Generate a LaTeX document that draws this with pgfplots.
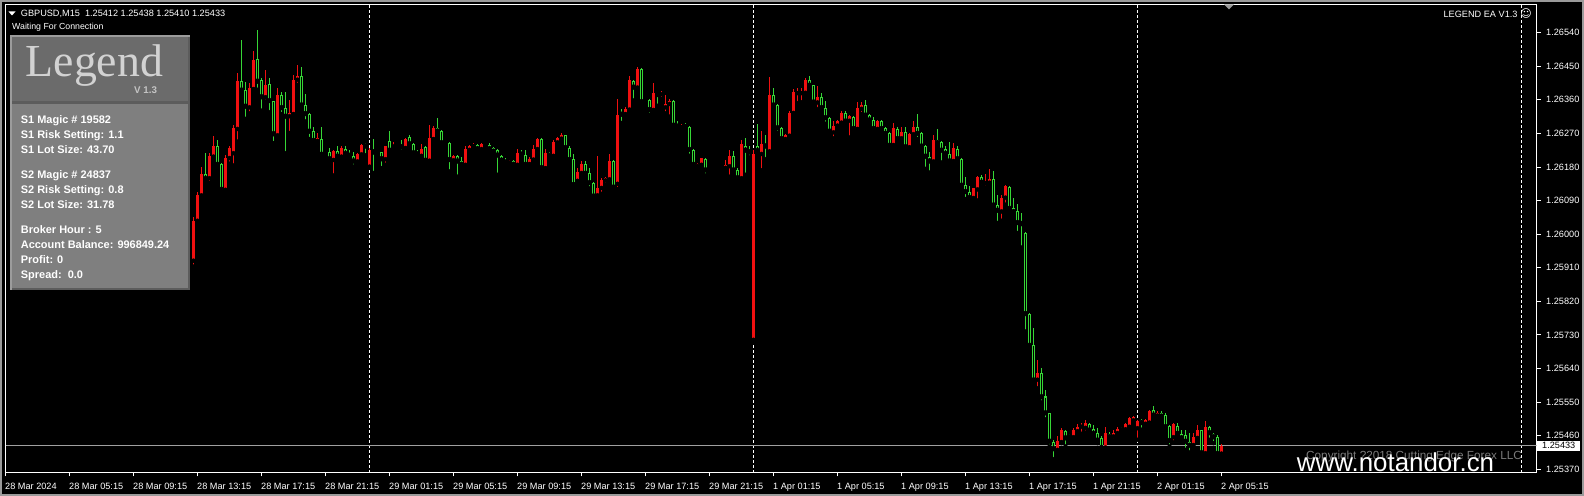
\documentclass[border=0pt]{standalone}
\usepackage{pgfplots}
\pgfplotsset{compat=1.18}
\usepackage{pgfplotstable}
\usepackage{fontspec}
\setmainfont{Liberation Sans}
\newfontfamily\serifleg{Liberation Serif}
\newfontfamily\dejavu{DejaVu Sans}
\definecolor{upc}{HTML}{F01010}
\definecolor{dnc}{HTML}{36D636}
\definecolor{hdr}{HTML}{6B6B6B}
\definecolor{pnl}{HTML}{7F7F7F}
\definecolor{pbl}{HTML}{9C9C9C}
\definecolor{pbd}{HTML}{5C5C5C}
\definecolor{legc}{HTML}{D2D2D2}
\definecolor{vcol}{HTML}{C4C4C4}
\definecolor{cpc}{HTML}{7A7A7A}
\definecolor{bidc}{HTML}{A0A0A0}
\definecolor{frm}{HTML}{9A9A9A}
\pgfplotstableread{
k o h l c
47 1.25929 1.26047 1.25913 1.26036
48 1.26036 1.26114 1.26030 1.26105
49 1.26104 1.26181 1.26100 1.26162
51 1.26150 1.26217 1.26137 1.26210
52 1.26208 1.26263 1.26204 1.26237
55 1.26119 1.26213 1.26110 1.26204
56 1.26204 1.26235 1.26189 1.26232
57 1.26217 1.26293 1.26184 1.26284
58 1.26282 1.26432 1.26248 1.26411
61 1.26340 1.26405 1.26324 1.26391
62 1.26389 1.26491 1.26382 1.26467
65 1.26367 1.26440 1.26355 1.26400
68 1.26265 1.26391 1.26255 1.26373
71 1.26316 1.26360 1.26271 1.26324
72 1.26322 1.26427 1.26318 1.26414
73 1.26414 1.26454 1.26400 1.26425
78 1.26250 1.26271 1.26239 1.26257
82 1.26199 1.26226 1.26157 1.26224
84 1.26208 1.26237 1.26199 1.26231
88 1.26195 1.26218 1.26192 1.26214
89 1.26214 1.26242 1.26210 1.26239
91 1.26181 1.26231 1.26180 1.26226
95 1.26201 1.26236 1.26186 1.26235
97 1.26235 1.26248 1.26232 1.26239
100 1.26231 1.26258 1.26229 1.26255
104 1.26210 1.26242 1.26208 1.26228
106 1.26197 1.26293 1.26195 1.26257
107 1.26255 1.26290 1.26251 1.26284
110 1.26244 1.26249 1.26242 1.26247
112 1.26198 1.26213 1.26195 1.26210
115 1.26186 1.26235 1.26181 1.26228
116 1.26226 1.26239 1.26221 1.26237
117 1.26236 1.26245 1.26232 1.26239
119 1.26228 1.26245 1.26226 1.26242
126 1.26192 1.26199 1.26190 1.26197
128 1.26186 1.26229 1.26183 1.26217
131 1.26188 1.26207 1.26183 1.26202
132 1.26200 1.26239 1.26195 1.26228
133 1.26228 1.26258 1.26226 1.26255
135 1.26177 1.26229 1.26175 1.26217
137 1.26210 1.26253 1.26207 1.26248
138 1.26246 1.26261 1.26239 1.26257
139 1.26256 1.26271 1.26251 1.26266
143 1.26143 1.26177 1.26136 1.26166
144 1.26164 1.26197 1.26162 1.26189
148 1.26104 1.26210 1.26102 1.26125
149 1.26124 1.26150 1.26108 1.26146
150 1.26144 1.26154 1.26132 1.26150
151 1.26147 1.26215 1.26141 1.26197
153 1.26135 1.26363 1.26121 1.26320
155 1.26322 1.26341 1.26320 1.26336
156 1.26334 1.26424 1.26331 1.26414
158 1.26393 1.26449 1.26391 1.26443
162 1.26333 1.26406 1.26331 1.26378
164 1.26375 1.26385 1.26362 1.26378
165 1.26340 1.26373 1.26324 1.26348
166 1.26349 1.26362 1.26315 1.26357
169 1.26287 1.26296 1.26282 1.26290
173 1.26183 1.26190 1.26172 1.26189
174 1.26186 1.26205 1.26185 1.26204
177 1.26170 1.26174 1.26168 1.26172
179 1.26177 1.26183 1.26175 1.26181
180 1.26178 1.26199 1.26174 1.26186
181 1.26182 1.26226 1.26154 1.26210
184 1.26150 1.26253 1.26147 1.26242
187 1.25717 1.26226 1.25712 1.26214
189 1.26215 1.26277 1.26171 1.26241
191 1.26222 1.26422 1.26217 1.26373
195 1.26255 1.26269 1.26248 1.26266
196 1.26264 1.26331 1.26262 1.26326
197 1.26325 1.26389 1.26322 1.26382
198 1.26378 1.26391 1.26351 1.26381
199 1.26378 1.26391 1.26353 1.26381
200 1.26379 1.26418 1.26376 1.26414
203 1.26353 1.26396 1.26335 1.26367
207 1.26273 1.26302 1.26257 1.26291
208 1.26291 1.26306 1.26282 1.26302
209 1.26299 1.26331 1.26296 1.26326
211 1.26304 1.26320 1.26259 1.26317
213 1.26282 1.26353 1.26281 1.26338
214 1.26336 1.26353 1.26322 1.26347
218 1.26282 1.26306 1.26280 1.26302
222 1.26239 1.26299 1.26237 1.26284
224 1.26257 1.26288 1.26248 1.26275
226 1.26233 1.26271 1.26228 1.26269
227 1.26268 1.26302 1.26264 1.26288
232 1.26195 1.26266 1.26193 1.26253
237 1.26196 1.26244 1.26193 1.26231
242 1.26097 1.26125 1.26094 1.26123
243 1.26120 1.26157 1.26090 1.26153
245 1.26137 1.26162 1.26125 1.26140
246 1.26138 1.26174 1.26130 1.26148
249 1.26061 1.26105 1.26036 1.26098
250 1.26098 1.26132 1.26079 1.26128
258 1.25610 1.25663 1.25587 1.25628
263 1.25422 1.25458 1.25417 1.25446
264 1.25443 1.25480 1.25440 1.25476
267 1.25456 1.25480 1.25453 1.25476
268 1.25472 1.25492 1.25462 1.25484
269 1.25484 1.25494 1.25465 1.25487
270 1.25481 1.25502 1.25468 1.25495
275 1.25428 1.25484 1.25426 1.25467
277 1.25458 1.25476 1.25447 1.25468
278 1.25467 1.25484 1.25462 1.25478
280 1.25477 1.25495 1.25476 1.25492
281 1.25484 1.25510 1.25480 1.25507
282 1.25501 1.25514 1.25498 1.25511
283 1.25480 1.25502 1.25449 1.25498
285 1.25492 1.25504 1.25489 1.25501
286 1.25495 1.25529 1.25494 1.25527
288 1.25514 1.25525 1.25511 1.25522
292 1.25456 1.25495 1.25442 1.25492
297 1.25435 1.25468 1.25427 1.25456
298 1.25454 1.25489 1.25451 1.25474
300 1.25413 1.25498 1.25409 1.25483
304 1.25412 1.25438 1.25410 1.25433
}\up
\pgfplotstableread{
k o h l c
50 1.26162 1.26217 1.26137 1.26148
53 1.26235 1.26253 1.26181 1.26186
54 1.26188 1.26190 1.26117 1.26119
59 1.26411 1.26521 1.26383 1.26385
60 1.26387 1.26407 1.26309 1.26342
63 1.26469 1.26548 1.26387 1.26409
64 1.26412 1.26418 1.26331 1.26367
66 1.26402 1.26418 1.26327 1.26357
67 1.26357 1.26358 1.26244 1.26268
69 1.26372 1.26382 1.26322 1.26338
70 1.26338 1.26382 1.26217 1.26315
74 1.26424 1.26448 1.26343 1.26345
75 1.26346 1.26376 1.26302 1.26322
76 1.26322 1.26324 1.26255 1.26275
77 1.26276 1.26286 1.26246 1.26250
79 1.26256 1.26288 1.26204 1.26213
80 1.26219 1.26221 1.26208 1.26213
81 1.26219 1.26232 1.26199 1.26201
83 1.26223 1.26235 1.26199 1.26208
85 1.26228 1.26235 1.26213 1.26215
86 1.26216 1.26226 1.26208 1.26210
87 1.26210 1.26221 1.26181 1.26195
90 1.26239 1.26244 1.26211 1.26235
92 1.26224 1.26255 1.26164 1.26219
93 1.26220 1.26221 1.26218 1.26219
94 1.26219 1.26221 1.26177 1.26201
96 1.26250 1.26277 1.26221 1.26224
98 1.26237 1.26239 1.26231 1.26235
99 1.26235 1.26253 1.26221 1.26233
101 1.26260 1.26266 1.26235 1.26241
102 1.26241 1.26245 1.26213 1.26217
103 1.26217 1.26226 1.26210 1.26214
105 1.26233 1.26237 1.26195 1.26197
108 1.26284 1.26311 1.26266 1.26275
109 1.26277 1.26280 1.26242 1.26244
111 1.26245 1.26247 1.26168 1.26199
113 1.26210 1.26213 1.26154 1.26195
114 1.26197 1.26208 1.26185 1.26186
118 1.26238 1.26242 1.26226 1.26228
120 1.26242 1.26244 1.26235 1.26238
121 1.26239 1.26244 1.26226 1.26228
122 1.26231 1.26234 1.26218 1.26221
123 1.26226 1.26229 1.26159 1.26211
124 1.26210 1.26213 1.26191 1.26197
125 1.26199 1.26204 1.26189 1.26192
127 1.26197 1.26199 1.26183 1.26186
129 1.26221 1.26226 1.26207 1.26213
130 1.26211 1.26226 1.26177 1.26186
134 1.26255 1.26257 1.26168 1.26177
136 1.26217 1.26220 1.26208 1.26210
140 1.26265 1.26266 1.26226 1.26231
141 1.26232 1.26235 1.26195 1.26199
142 1.26202 1.26214 1.26128 1.26132
145 1.26188 1.26195 1.26159 1.26162
146 1.26163 1.26177 1.26123 1.26137
147 1.26138 1.26141 1.26092 1.26101
152 1.26197 1.26199 1.26116 1.26125
154 1.26324 1.26335 1.26298 1.26320
157 1.26411 1.26413 1.26358 1.26393
159 1.26443 1.26445 1.26345 1.26354
160 1.26358 1.26360 1.26347 1.26354
161 1.26360 1.26363 1.26320 1.26333
163 1.26378 1.26380 1.26344 1.26373
167 1.26357 1.26360 1.26290 1.26291
168 1.26293 1.26302 1.26287 1.26288
170 1.26290 1.26298 1.26284 1.26287
171 1.26288 1.26290 1.26210 1.26226
172 1.26226 1.26227 1.26177 1.26186
175 1.26201 1.26203 1.26157 1.26171
176 1.26174 1.26177 1.26168 1.26171
178 1.26175 1.26176 1.26172 1.26173
182 1.26210 1.26223 1.26168 1.26171
183 1.26171 1.26177 1.26143 1.26150
185 1.26236 1.26257 1.26159 1.26224
186 1.26226 1.26235 1.26206 1.26219
188 1.26235 1.26296 1.26217 1.26223
190 1.26241 1.26266 1.26201 1.26235
192 1.26373 1.26391 1.26342 1.26345
193 1.26347 1.26348 1.26271 1.26284
194 1.26284 1.26288 1.26253 1.26255
201 1.26414 1.26424 1.26391 1.26398
202 1.26400 1.26401 1.26344 1.26353
204 1.26367 1.26378 1.26333 1.26338
205 1.26339 1.26357 1.26296 1.26311
206 1.26311 1.26315 1.26266 1.26275
210 1.26324 1.26329 1.26296 1.26302
212 1.26315 1.26317 1.26280 1.26282
215 1.26347 1.26360 1.26315 1.26318
216 1.26320 1.26321 1.26298 1.26305
217 1.26306 1.26315 1.26275 1.26282
219 1.26302 1.26306 1.26280 1.26282
220 1.26284 1.26288 1.26264 1.26269
221 1.26271 1.26275 1.26232 1.26237
223 1.26282 1.26288 1.26253 1.26255
225 1.26275 1.26288 1.26226 1.26233
228 1.26287 1.26322 1.26255 1.26269
229 1.26271 1.26275 1.26233 1.26235
230 1.26236 1.26239 1.26175 1.26208
231 1.26208 1.26221 1.26165 1.26195
233 1.26253 1.26282 1.26239 1.26244
234 1.26246 1.26250 1.26192 1.26224
235 1.26227 1.26235 1.26213 1.26215
236 1.26215 1.26248 1.26192 1.26195
238 1.26228 1.26237 1.26199 1.26201
239 1.26201 1.26204 1.26123 1.26130
240 1.26133 1.26153 1.26094 1.26113
241 1.26113 1.26128 1.26092 1.26097
244 1.26152 1.26159 1.26128 1.26138
247 1.26148 1.26170 1.26074 1.26077
248 1.26079 1.26105 1.26030 1.26063
251 1.26126 1.26130 1.26065 1.26068
252 1.26069 1.26097 1.26056 1.26059
253 1.26061 1.26081 1.26003 1.26030
254 1.26030 1.26058 1.25964 1.26027
255 1.26003 1.26005 1.25739 1.25786
256 1.25786 1.25788 1.25699 1.25701
257 1.25703 1.25748 1.25605 1.25608
259 1.25629 1.25641 1.25549 1.25563
260 1.25565 1.25583 1.25504 1.25520
261 1.25520 1.25522 1.25431 1.25444
262 1.25444 1.25449 1.25397 1.25424
265 1.25472 1.25476 1.25431 1.25453
266 1.25460 1.25465 1.25451 1.25456
271 1.25492 1.25494 1.25467 1.25474
272 1.25477 1.25489 1.25458 1.25465
273 1.25466 1.25480 1.25440 1.25447
274 1.25453 1.25458 1.25422 1.25427
276 1.25465 1.25471 1.25451 1.25456
279 1.25480 1.25483 1.25470 1.25474
284 1.25501 1.25504 1.25476 1.25494
287 1.25529 1.25540 1.25511 1.25514
289 1.25521 1.25525 1.25510 1.25511
290 1.25516 1.25522 1.25480 1.25483
291 1.25485 1.25489 1.25431 1.25446
293 1.25487 1.25495 1.25456 1.25465
294 1.25465 1.25476 1.25449 1.25453
295 1.25462 1.25474 1.25422 1.25444
296 1.25444 1.25468 1.25415 1.25433
299 1.25474 1.25476 1.25411 1.25413
301 1.25483 1.25486 1.25449 1.25467
302 1.25465 1.25468 1.25440 1.25456
303 1.25457 1.25462 1.25409 1.25411
}\dn
\begin{document}
\begin{tikzpicture}
\fill[black] (0,0) rectangle (1584bp,496bp);
\useasboundingbox (0,0) rectangle (1584bp,496bp);
\draw[frm, line width=2bp] (1bp,1bp) rectangle (1583bp,495bp);
\begin{axis}[
  at={(5.5bp,23.5bp)}, anchor=south west,
  scale only axis, width=1531bp, height=468bp,
  xmin=0, xmax=382.75, ymin=1.253613, ymax=1.266155,
  axis line style={white, line width=1bp},
  tick style={white, line width=1bp},
  major tick length=4bp, tick align=outside,
  xtick pos=left, ytick pos=right,
  xticklabel pos=left, yticklabel pos=right,
  xtick={0,16,...,304},
  xticklabels={28 Mar 2024,28 Mar 05:15,28 Mar 09:15,28 Mar 13:15,28 Mar 17:15,28 Mar 21:15,29 Mar 01:15,29 Mar 05:15,29 Mar 09:15,29 Mar 13:15,29 Mar 17:15,29 Mar 21:15,1 Apr 01:15,1 Apr 05:15,1 Apr 09:15,1 Apr 13:15,1 Apr 17:15,1 Apr 21:15,2 Apr 01:15,2 Apr 05:15},
  ytick={1.2537,1.2546,1.2555,1.2564,1.2573,1.2582,1.2591,1.2600,1.2609,1.2618,1.2627,1.2636,1.2645,1.2654},
  yticklabels={1.25370,1.25460,1.25550,1.25640,1.25730,1.25820,1.25910,1.26000,1.26090,1.26180,1.26270,1.26360,1.26450,1.26540},
  ticklabel style={font=\fontsize{9.2}{11}\selectfont, text=white, inner sep=0pt},
  xticklabel style={anchor=north west, yshift=-6bp, xshift=-0.5bp},
  yticklabel style={anchor=west, xshift=5.5bp},
]
\pgfplotsinvokeforeach{91,187,283,379}{
  \addplot[white, line width=1bp, dash pattern=on 3bp off 2bp] coordinates {(#1,1.2536) (#1,1.26616)};
}
\addplot[bidc, line width=1bp] coordinates {(0,1.25433) (382.75,1.25433)};
% wicks
\addplot[only marks, mark=none, error bars/.cd, y dir=plus, y explicit, error mark=none,
  error bar style={line width=1bp, draw=upc}]
  table[x=k, y=l, y error plus expr=\thisrow{h}-\thisrow{l}] {\up};
\addplot[only marks, mark=none, error bars/.cd, y dir=plus, y explicit, error mark=none,
  error bar style={line width=1bp, draw=dnc}]
  table[x=k, y=l, y error plus expr=\thisrow{h}-\thisrow{l}] {\dn};
% bodies
\addplot[only marks, mark=none, error bars/.cd, y dir=plus, y explicit, error mark=none,
  error bar style={line width=3bp, draw=upc}]
  table[x=k, y=o, y error plus expr={max(\thisrow{c}-\thisrow{o},0.00003)}] {\up};
\addplot[only marks, mark=none, error bars/.cd, y dir=plus, y explicit, error mark=none,
  error bar style={line width=3bp, draw=dnc}]
  table[x=k, y=c, y error plus expr={max(\thisrow{o}-\thisrow{c},0.00003)}] {\dn};
\addplot[only marks, mark=none, error bars/.cd, y dir=plus, y explicit, error mark=none,
  error bar style={line width=1bp, draw=black}]
  table[x=k, y expr=\thisrow{c}+0.000027, y error plus expr={max(\thisrow{o}-\thisrow{c}-0.000054,0)}] {\dn};
\end{axis}
\begin{scope}[x=1bp, y=-1bp, yshift=496bp]
  % header texts
  \fill[white] (8.5,11.5) -- (15.5,11.5) -- (12,15.5) -- cycle;
  \node[anchor=base west, inner sep=0pt, text=white, font=\fontsize{9.2}{11}\selectfont] at (20.7,16.8) {GBPUSD,M15\ \ 1.25412 1.25438 1.25410 1.25433};
  \node[anchor=base west, inner sep=0pt, text=white, font=\fontsize{8.8}{11}\selectfont] at (12,29.2) {Waiting For Connection};
  \node[anchor=base east, inner sep=0pt, text=white, font=\fontsize{9.2}{11}\selectfont] at (1517.7,17.4) {LEGEND EA V1.3};
  \node[inner sep=0pt, text=white, font=\dejavu\fontsize{11}{12}\selectfont] at (1526,14) {☺};
  \fill[frm] (1224,4.5) -- (1234,4.5) -- (1229,9.5) -- cycle;
  % panel
  \fill[pbl] (10,35) rectangle (190,290);
  \fill[pbd] (12,37) rectangle (190,290);
  \fill[hdr] (12,37) rectangle (188,101);
  \fill[pbd] (12,101) rectangle (188,104);
  \fill[pnl] (12,104) rectangle (188,288);
  \node[anchor=base west, inner sep=0pt, text=legc, font=\serifleg\fontsize{46}{46}\selectfont] at (25.5,76.7) {Legend};
  \node[anchor=base west, inner sep=0pt, text=vcol, font=\bfseries\fontsize{9.8}{10}\selectfont] at (134,93.8) {V 1.3};
  \begin{scope}[every node/.style={anchor=base west, inner sep=0pt, text=white, font=\bfseries\fontsize{11}{12}\selectfont}]
    \node at (20.7,123.3) {S1 Magic \# 19582};
    \node at (20.7,138.3) {S1 Risk Setting: 1.1};
    \node at (20.7,153.3) {S1 Lot Size: 43.70};
    \node at (20.7,178.3) {S2 Magic \# 24837};
    \node at (20.7,193.3) {S2 Risk Setting: 0.8};
    \node at (20.7,208.2) {S2 Lot Size: 31.78};
    \node at (20.7,233.3) {Broker Hour : 5};
    \node at (20.7,248.2) {Account Balance: 996849.24};
    \node at (20.7,263.3) {Profit: 0};
    \node at (20.7,278.3) {Spread:\ \ 0.0};
  \end{scope}
  % price box
  \fill[white] (1537,440.7) rectangle (1580,450.7);
  \node[anchor=west, inner sep=0pt, text=black, font=\fontsize{9.2}{11}\selectfont] at (1542,445.8) {1.25433};
  % copyright and watermark
  \node[anchor=base west, inner sep=0pt, text=cpc, font=\fontsize{11.8}{12}\selectfont] at (1306,459.2) {Copyright ?2018 Cutting Edge Forex LLC};
  \node[anchor=base west, inner sep=0pt, text=white, font=\fontsize{26}{26}\selectfont] at (1296.7,471.5) {www.notandor.cn};
\end{scope}
\end{tikzpicture}
\end{document}
